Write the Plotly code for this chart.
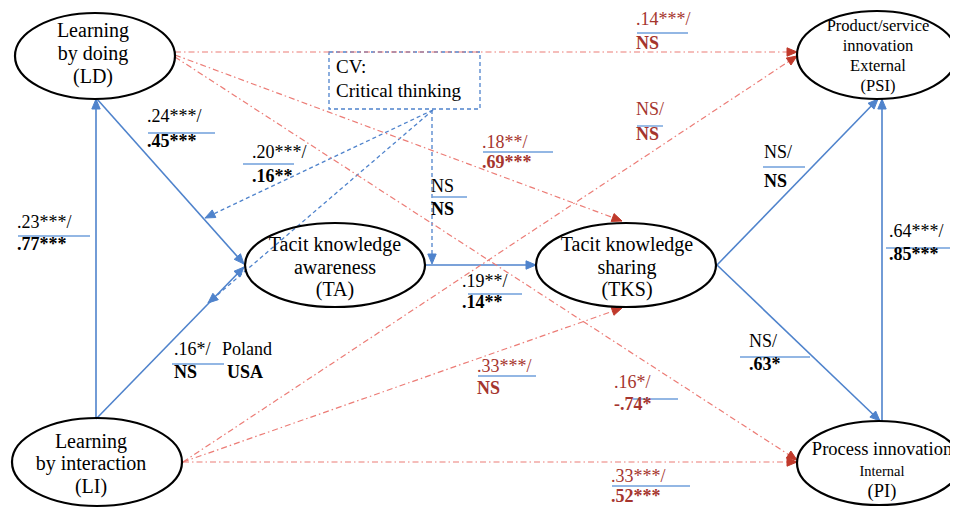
import math
import plotly.graph_objects as go

# ---------------- data (text content) ----------------
node_ids = ["LD", "LI", "TA", "TKS", "PSI", "PI"]
node_lines = {
    "LD": ["Learning", "by doing", "(LD)"],
    "LI": ["Learning", "by interaction", "(LI)"],
    "TA": ["Tacit knowledge", "awareness", "(TA)"],
    "TKS": ["Tacit knowledge", "sharing", "(TKS)"],
    "PSI": ["Product/service", "innovation", "External", "(PSI)"],
    "PI": ["Process innovation", "Internal", "(PI)"],
}
cv_lines = ["CV:", "Critical thinking"]

# path coefficients: Poland (top) / USA (bottom, bold)
path_names = ["LD-TA", "CV-LDTA", "LI-LD", "LI-TA", "CV-TATKS", "TA-TKS", "LD-TKS", "LD-PSI",
              "LI-PSI", "TKS-PSI", "PI-PSI", "TKS-PI", "LI-TKS", "LD-PI", "LI-PI"]
poland_vals = [".24***/", ".20***/", ".23***/", ".16*/", "NS", ".19**/", ".18**/", ".14***/",
               "NS/", "NS/", ".64***/", "NS/", ".33***/", ".16*/", ".33***/"]
usa_vals = [".45***", ".16**", ".77***", "NS", "NS", ".14**", ".69***", "NS",
            "NS", "NS", ".85***", ".63*", "NS", "-.74*", ".52***"]
path_group = ["direct", "direct", "direct", "direct", "direct", "direct", "cross", "cross",
              "cross", "direct", "direct", "direct", "cross", "cross", "cross"]
legend_labels = ["Poland", "USA"]

# ---------------- layout / style ----------------
W, H = 958, 511
PAGE_OFF = 8   # default browser body margin; the axes are shifted so data units == page pixels
BLUE = "#4f83cc"
ULBLUE = "#6f9fdb"
RED_LINE = "#ec7c76"
RED_HEAD = "#c0392b"
RED_TEXT = "#a5352e"
SERIF = "Liberation Serif"

node_geom = {  # cx, cy, rx, ry
    "LD": (95, 56, 80, 43),
    "LI": (97, 462, 85, 44),
    "TA": (335, 265, 90, 42),
    "TKS": (626, 265, 90, 42),
    "PSI": (877, 55, 80, 44),
    "PI": (879, 463, 82, 42),
}
node_text_pos = {  # x center, list of (y, size)
    "LD": (93, [(32, 20), (55, 20), (78, 20)]),
    "LI": (91, [(443, 20), (465, 20), (488, 20)]),
    "TA": (335, [(246, 20), (269, 20), (291, 20)]),
    "TKS": (627, [(246, 20), (269, 20), (291, 20)]),
    "PSI": (878, [(27, 16.5), (47, 16.5), (67, 16.5), (87, 16.5)]),
    "PI": (882, [(450, 18.5), (472, 14.5), (492, 18.5)]),
}

# edges: (start point, end point, style)
edges = [
    ((96, 419), (96, 99), "solid"),      # LI -> LD
    ((97, 99), (244, 264), "solid"),     # LD -> TA
    ((96, 419), (244, 267), "solid"),    # LI -> TA
    ((425, 265), (536, 265), "solid"),   # TA -> TKS
    ((717, 265), (878, 99), "solid"),    # TKS -> PSI
    ((717, 265), (880, 421), "solid"),   # TKS -> PI
    ((882, 421), (882, 99), "solid"),    # PI -> PSI
    ((433, 110), (205, 218), "dash"),    # CV -> LD-TA
    ((433, 110), (208, 303), "dash"),    # CV -> LI-TA
    ((432, 110), (432, 264), "dash"),    # CV -> TA-TKS
    ((175, 52), (797, 52), "dashdot"),   # LD -> PSI
    ((175, 55), (622, 221), "dashdot"),  # LD -> TKS
    ((175, 57), (797, 460), "dashdot"),  # LD -> PI
    ((183, 462), (797, 56), "dashdot"),  # LI -> PSI
    ((183, 462), (622, 308), "dashdot"), # LI -> TKS
    ((183, 462), (797, 462), "dashdot"), # LI -> PI
]

# label positions: x_text, y_top, y_bottom, underline x0, x1, y
label_pos = [
    (147, 117, 142, 148, 215, 133),
    (252, 153, 177, 243, 294, 164),
    (17, 223, 245, 18, 90, 236),
    (174, 350, 373, 172, 224, 364),
    (431, 187, 210, 432, 467, 197),
    (462, 282, 303, 468, 522, 294),
    (482, 143, 163, 483, 553, 152),
    (636, 20, 44, 637, 688, 33),
    (636, 110, 135, 637, 663, 126),
    (764, 153, 182, 763, 805, 167),
    (889, 232, 255, 886, 958, 248),
    (749, 342, 365, 740, 810, 357),
    (477, 367, 389, 478, 536, 376),
    (614, 383, 405, 633, 678, 399),
    (611, 477, 497, 612, 690, 486),
]

shapes = []
# text collections: centred and left-anchored
c_x, c_y, c_t, c_s = [], [], [], []
l_x, l_y, l_t, l_s, l_c = [], [], [], [], []


def add_left(x, y, text, size=18, color="black"):
    l_x.append(x); l_y.append(y); l_t.append(text); l_s.append(size); l_c.append(color)


def arrow_head(p0, p1, color, length=10, half=4.2):
    dx, dy = p1[0] - p0[0], p1[1] - p0[1]
    d = math.hypot(dx, dy)
    ux, uy = dx / d, dy / d
    bx, by = p1[0] - ux * length, p1[1] - uy * length
    nx, ny = -uy, ux
    path = "M {:.2f},{:.2f} L {:.2f},{:.2f} L {:.2f},{:.2f} Z".format(
        p1[0], p1[1], bx + nx * half, by + ny * half, bx - nx * half, by - ny * half)
    shapes.append(dict(type="path", path=path, xref="x", yref="y", layer="below",
                       fillcolor=color, line=dict(color=color, width=1)))


# CV box
shapes.append(dict(type="rect", x0=329, y0=52, x1=480, y1=109, xref="x", yref="y",
                   layer="below", line=dict(color=BLUE, width=1.3, dash="4px,3px"),
                   fillcolor="white"))

# edges
for p0, p1, style in edges:
    if style == "solid":
        col, dash, w, hc = BLUE, "solid", 1.6, BLUE
    elif style == "dash":
        col, dash, w, hc = BLUE, "4px,3px", 1.3, BLUE
    else:
        col, dash, w, hc = RED_LINE, "6px,3px,1.5px,3px", 1.2, RED_HEAD
    shapes.append(dict(type="line", x0=p0[0], y0=p0[1], x1=p1[0], y1=p1[1],
                       xref="x", yref="y", layer="below",
                       line=dict(color=col, width=w, dash=dash)))
    arrow_head(p0, p1, hc)

add_left(336, 68, cv_lines[0], size=19)
add_left(336, 92, cv_lines[1], size=19)

# ellipses
for nid in node_ids:
    cx, cy, rx, ry = node_geom[nid]
    shapes.append(dict(type="circle", x0=cx - rx, x1=cx + rx, y0=cy - ry, y1=cy + ry,
                       xref="x", yref="y", layer="below",
                       line=dict(color="black", width=2.2)))
    tx, rows = node_text_pos[nid]
    for line, (ty, sz) in zip(node_lines[nid], rows):
        c_x.append(tx); c_y.append(ty); c_t.append(line); c_s.append(sz)

# labels
for name, top, bot, grp, pos in zip(path_names, poland_vals, usa_vals, path_group, label_pos):
    tx, ty, by, ux0, ux1, uy = pos
    col = RED_TEXT if grp == "cross" else "black"
    add_left(tx, ty, top, size=18, color=col)
    add_left(tx, by, "<b>" + bot + "</b>", size=18, color=col)
    shapes.append(dict(type="line", x0=ux0, x1=ux1, y0=uy, y1=uy, xref="x", yref="y",
                       layer="below", line=dict(color=ULBLUE, width=1.4)))

# legend
add_left(222, 350, legend_labels[0], size=18)
add_left(227, 373, "<b>" + legend_labels[1] + "</b>", size=18)

fig = go.Figure()
fig.add_trace(go.Scatter(x=c_x, y=c_y, text=c_t, mode="text", textposition="middle center",
                         textfont=dict(family=SERIF, size=c_s, color="black"),
                         cliponaxis=False, hoverinfo="skip"))
fig.add_trace(go.Scatter(x=l_x, y=l_y, text=l_t, mode="text", textposition="middle right",
                         textfont=dict(family=SERIF, size=l_s, color=l_c),
                         cliponaxis=False, hoverinfo="skip"))
fig.update_layout(
    width=W - PAGE_OFF, height=H - PAGE_OFF, margin=dict(l=0, r=0, t=0, b=0),
    font=dict(family=SERIF, size=17, color="black"),
    paper_bgcolor="white", plot_bgcolor="rgba(0,0,0,0)",
    xaxis=dict(range=[PAGE_OFF, W], visible=False, fixedrange=True),
    yaxis=dict(range=[H, PAGE_OFF], visible=False, fixedrange=True),
    shapes=shapes, showlegend=False,
)
fig.write_html("out.html")
